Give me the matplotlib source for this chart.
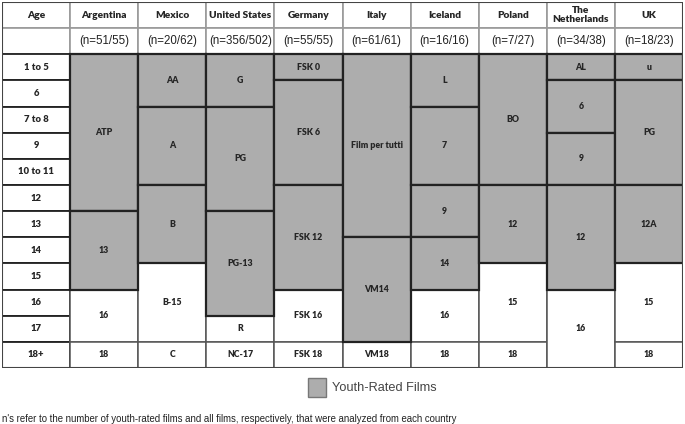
import matplotlib
matplotlib.use("Agg")
import matplotlib.pyplot as plt
from matplotlib.patches import Rectangle

# ---- data ----
AGES = ["1 to 5", "6", "7 to 8", "9", "10 to 11", "12", "13", "14", "15", "16", "17", "18+"]
COUNTRIES = ["Argentina", "Mexico", "United States", "Germany", "Italy", "Iceland",
             "Poland", "The\nNetherlands", "UK"]
N_LABELS = ["(n=51/55)", "(n=20/62)", "(n=356/502)", "(n=55/55)", "(n=61/61)",
            "(n=16/16)", "(n=7/27)", "(n=34/38)", "(n=18/23)"]

# rating labels per country (top to bottom), how many age rows each spans,
# and how many of the first ratings are youth-rated (grey)
RATINGS = [
    ["ATP", "13", "16", "18"],
    ["AA", "A", "B", "B-15", "C"],
    ["G", "PG", "PG-13", "R", "NC-17"],
    ["FSK 0", "FSK 6", "FSK 12", "FSK 16", "FSK 18"],
    ["Film per tutti", "VM14", "VM18"],
    ["L", "7", "9", "14", "16", "18"],
    ["BO", "12", "15", "18"],
    ["AL", "6", "9", "12", "16"],
    ["u", "PG", "12A", "15", "18"],
]
SPANS = [
    [6, 3, 2, 1],
    [2, 3, 3, 3, 1],
    [2, 4, 4, 1, 1],
    [1, 4, 4, 2, 1],
    [7, 4, 1],
    [2, 3, 2, 2, 2, 1],
    [5, 3, 3, 1],
    [1, 2, 2, 4, 3],
    [1, 4, 3, 3, 1],
]
N_YOUTH = [2, 3, 3, 3, 2, 4, 2, 4, 3]

GREY = "#adadad"
DARK = "#222222"
LIGHT = "#9a9a9a"
TXT = "#262626"
BOLD_FONT = ["Lato", "DejaVu Sans"]
PLAIN_FONT = ["Liberation Sans", "DejaVu Sans"]
BOLD_W = "heavy"

fig = plt.figure(figsize=(6.85, 4.24), dpi=100)
ax = fig.add_axes([2 / 685, 1 - 368 / 424, 681 / 685, 366 / 424])
ncol = len(COUNTRIES) + 1
nrow = len(AGES) + 2
ax.set_xlim(0, ncol)
ax.set_ylim(nrow, 0)
ax.axis("off")

# header rows
for c in range(ncol):
    for r in range(2):
        ax.add_patch(Rectangle((c, r), 1, 1, facecolor="white", edgecolor=LIGHT, lw=1.2))
ax.text(0.5, 0.5, "Age", ha="center", va="center", fontsize=7.3,
        fontweight=BOLD_W, family=BOLD_FONT, color=TXT)
for i, name in enumerate(COUNTRIES):
    ax.text(i + 1.5, 0.5, name, ha="center", va="center", fontsize=7.3,
            fontweight=BOLD_W, family=BOLD_FONT, color=TXT, linespacing=1.1)
    ax.text(i + 1.5, 1.5, N_LABELS[i], ha="center", va="center", fontsize=8.3,
            family=PLAIN_FONT, color="#222222")

# age column
for r, age in enumerate(AGES):
    ax.add_patch(Rectangle((0, r + 2), 1, 1, facecolor="white", edgecolor=DARK, lw=1.3))
    ax.text(0.5, r + 2.5, age, ha="center", va="center", fontsize=6.8,
            fontweight=BOLD_W, family=BOLD_FONT, color=TXT)

# rating blocks
for i in range(len(COUNTRIES)):
    top = 2
    for j, (lab, span) in enumerate(zip(RATINGS[i], SPANS[i])):
        youth = j < N_YOUTH[i]
        ax.add_patch(Rectangle((i + 1, top), 1, span,
                               facecolor=GREY if youth else "white",
                               edgecolor=DARK if youth else "#555555",
                               lw=1.6 if youth else 1.1,
                               zorder=3 if youth else 2))
        ax.text(i + 1.5, top + span / 2, lab, ha="center", va="center", fontsize=6.3,
                fontweight=BOLD_W, family=BOLD_FONT, color=TXT, zorder=4)
        top += span

# outer frame
ax.add_patch(Rectangle((0, 0), ncol, nrow, fill=False, edgecolor="#444444", lw=1.5, zorder=5))

# legend
fig.patches.append(Rectangle((308 / 685, 1 - 397 / 424), 18 / 685, 19 / 424,
                             transform=fig.transFigure, facecolor=GREY,
                             edgecolor="#777777", lw=1.0))
fig.text(332 / 685, 1 - 388 / 424, "Youth-Rated Films", ha="left", va="center",
         fontsize=9.2, family=PLAIN_FONT, color="#444444")
fig.text(2 / 685, 1 - 419 / 424,
         "n's refer to the number of youth-rated films and all films, respectively, "
         "that were analyzed from each country",
         ha="left", va="center", fontsize=6.9, family=PLAIN_FONT, color="#222222")

fig.savefig("out.png", dpi=100, facecolor="white")
